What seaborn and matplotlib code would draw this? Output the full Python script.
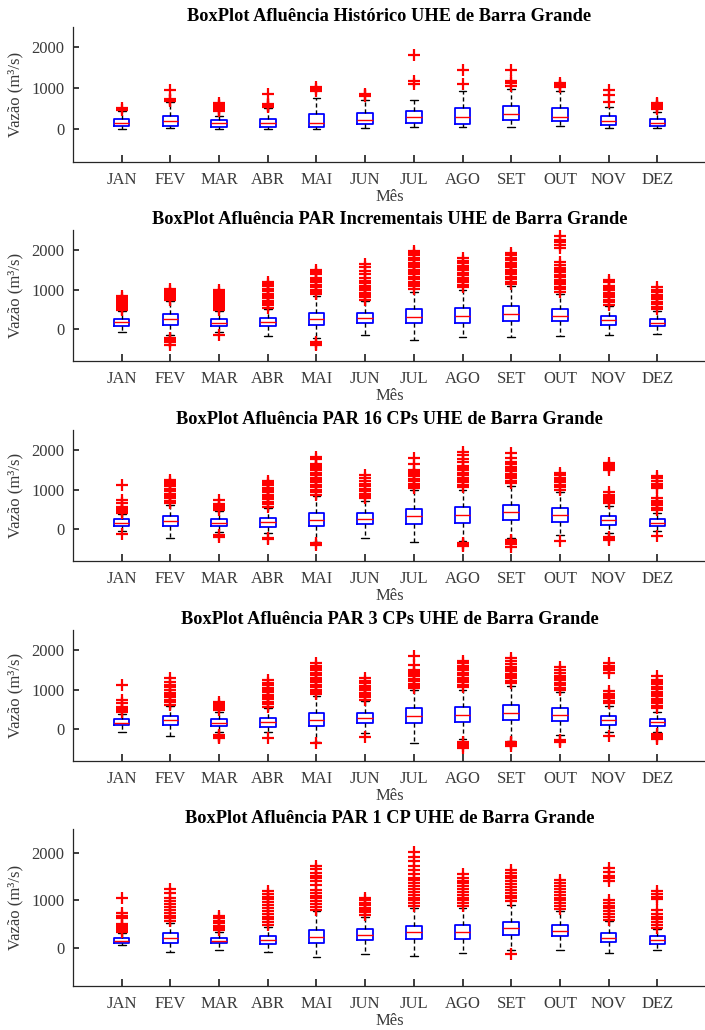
import numpy as np
import pandas as pd
import matplotlib
matplotlib.use('Agg')
import matplotlib.pyplot as plt
import seaborn as sns

MONTHS = ['JAN', 'FEV', 'MAR', 'ABR', 'MAI', 'JUN', 'JUL', 'AGO', 'SET', 'OUT', 'NOV', 'DEZ']
YTICKS = [0, 1000, 2000]

TITLES = [
    'BoxPlot Afluência Histórico UHE de Barra Grande',
    'BoxPlot Afluência PAR Incrementais UHE de Barra Grande',
    'BoxPlot Afluência PAR 16 CPs UHE de Barra Grande',
    'BoxPlot Afluência PAR 3 CPs UHE de Barra Grande',
    'BoxPlot Afluência PAR 1 CP UHE de Barra Grande',
]

# ---- Panel 1: Histórico ----
hist_q1 = [90, 90, 66, 66, 58, 123, 148, 140, 222, 190, 99, 74]
hist_med = [156, 190, 148, 156, 165, 238, 304, 288, 362, 304, 190, 148]
hist_q3 = [247, 313, 222, 247, 370, 410, 452, 510, 560, 510, 330, 240]
hist_lo = [16, 25, 16, 16, 16, 40, 58, 58, 58, 82, 40, 25]
hist_hi = [450, 660, 330, 520, 765, 724, 716, 946, 990, 930, 535, 430]
hist_out = [
    [480, 510],
    [690, 710, 730, 960],
    [450, 480, 500, 530, 560, 600, 640],
    [550, 570, 590, 610, 870],
    [930, 990, 1040],
    [820, 840, 860],
    [1100, 1170, 1810],
    [1100, 1440],
    [1050, 1120, 1190, 1440],
    [1030, 1060, 1090, 1120],
    [670, 830, 950],
    [490, 520, 550, 580, 610, 650],
]

# ---- Panel 2: PAR Incrementais ----
inc_q1 = [92, 100, 83, 83, 100, 150, 167, 167, 217, 217, 117, 75]
inc_med = [175, 250, 167, 183, 258, 275, 317, 333, 383, 342, 225, 167]
inc_q3 = [258, 375, 250, 283, 417, 400, 508, 542, 592, 517, 325, 258]
inc_lo = [-58, -150, -60, -167, -220, -142, -283, -208, -208, -167, -142, -125]
inc_hi = [460, 700, 460, 500, 840, 700, 950, 1000, 1100, 900, 580, 470]
inc_out = [
    [480, 520, 560, 600, 640, 690, 740, 790, 850],
    [740, 790, 840, 880, 920, 960, 1010, -230, -270, -300, -330, -390],
    [480, 530, 580, 630, 680, 730, 780, 830, 880, 930, 980, -140],
    [540, 600, 660, 720, 780, 840, 900, 960, 1020, 1080, 1140, 1200],
    [880, 940, 1000, 1060, 1120, 1180, 1240, 1300, 1380, 1440, 1500, -330, -360, -400],
    [740, 800, 860, 920, 980, 1040, 1100, 1160, 1220, 1300, 1380, 1460, 1560, 1650],
    [1020, 1080, 1140, 1200, 1260, 1320, 1380, 1440, 1500, 1560, 1620, 1680, 1740, 1800, 1860, 1920, 1980],
    [1060, 1120, 1180, 1240, 1300, 1360, 1420, 1480, 1540, 1600, 1660, 1720, 1800],
    [1140, 1200, 1260, 1320, 1380, 1440, 1500, 1560, 1620, 1680, 1740, 1800, 1860, 1930],
    [950, 1010, 1070, 1130, 1190, 1250, 1310, 1370, 1430, 1490, 1550, 1610, 1690, 2040, 2120, 2190, 2260, 2340],
    [620, 680, 740, 800, 860, 920, 980, 1040, 1100, 1180, 1250],
    [510, 570, 630, 690, 750, 810, 870, 930, 1000, 1060],
]

# ---- Panel 3: PAR 16 CPs ----
c16_q1 = [84, 84, 76, 59, 84, 143, 143, 169, 228, 194, 110, 84]
c16_med = [169, 219, 169, 194, 245, 270, 329, 371, 422, 371, 236, 169]
c16_q3 = [253, 338, 262, 295, 413, 413, 515, 548, 608, 540, 338, 262]
c16_lo = [-40, -211, -60, -100, -330, -211, -329, -300, -220, -150, -100, -50]
c16_hi = [380, 600, 450, 540, 840, 700, 1000, 1000, 1100, 950, 580, 420]
c16_out = [
    [410, 450, 490, 530, 560, 670, 730, 1110, -110],
    [660, 720, 780, 840, 900, 960, 1020, 1080, 1130, 1180, 1230],
    [480, 530, 580, 630, 730, -150, -190],
    [570, 630, 690, 750, 810, 870, 930, 980, 1050, 1110, 1170, 1220, -220, -250],
    [870, 940, 1000, 1060, 1120, 1180, 1240, 1300, 1360, 1420, 1480, 1540, 1600, 1650, 1760, 1830, -350, -400],
    [780, 840, 900, 960, 1020, 1080, 1150, 1220, 1290, 1360],
    [1030, 1090, 1150, 1210, 1270, 1330, 1390, 1450, 1500, 1650, 1790],
    [1060, 1120, 1180, 1240, 1300, 1360, 1420, 1480, 1540, 1600, 1700, 1780, 1860, 1940, -350, -390, -430],
    [1160, 1220, 1280, 1340, 1400, 1460, 1520, 1580, 1640, 1700, 1800, 1920, -280, -330, -380, -440],
    [1000, 1060, 1120, 1180, 1240, 1300, 1360, 1420, -300],
    [650, 700, 750, 800, 860, 930, 1500, 1540, 1580, 1620, 1680, -200, -240, -260],
    [480, 540, 600, 660, 720, 780, 1030, 1090, 1150, 1210, 1280, 1330, -170],
]

# ---- Panel 4: PAR 3 CPs ----
c3_q1 = [101, 101, 84, 59, 93, 160, 160, 186, 228, 211, 118, 84]
c3_med = [169, 228, 169, 177, 245, 287, 329, 371, 413, 371, 236, 177]
c3_q3 = [253, 338, 262, 295, 413, 413, 523, 548, 608, 540, 338, 262]
c3_lo = [-68, -177, -60, -80, -330, -100, -338, -250, -300, -150, -80, -60]
c3_hi = [380, 580, 430, 540, 840, 700, 1000, 1000, 1100, 950, 580, 430]
c3_out = [
    [440, 480, 520, 560, 670, 730, 1110],
    [620, 680, 740, 800, 860, 920, 980, 1060, 1120, 1200, 1280],
    [480, 530, 580, 630, 690, -140, -170, -200, -230],
    [570, 630, 690, 750, 810, 870, 930, 990, 1050, 1110, 1170, 1230, -230],
    [880, 940, 1000, 1060, 1120, 1180, 1240, 1300, 1360, 1420, 1480, 1540, 1600, 1680, -350],
    [740, 800, 860, 920, 980, 1040, 1100, 1160, 1220, 1300, -200],
    [1030, 1090, 1150, 1210, 1270, 1330, 1390, 1450, 1500, 1620, 1850],
    [1060, 1120, 1180, 1240, 1300, 1360, 1420, 1480, 1540, 1600, 1660, 1720, -330, -370, -410, -460],
    [1160, 1220, 1280, 1340, 1400, 1460, 1520, 1580, 1640, 1720, 1800, -320, -350, -380, -430],
    [990, 1050, 1110, 1170, 1230, 1290, 1350, 1420, 1500, 1580, -260, -290, -310],
    [660, 720, 780, 840, 900, 970, 1420, 1480, 1540, 1600, 1670, -180],
    [530, 590, 650, 710, 770, 830, 890, 950, 1010, 1070, 1130, 1190, 1250, 1330, -130, -170, -210, -240],
]

# ---- Panel 5: PAR 1 CP ----
c1_q1 = [106, 113, 106, 92, 106, 163, 184, 198, 269, 247, 127, 92]
c1_med = [148, 212, 148, 170, 226, 276, 325, 332, 410, 360, 219, 170]
c1_q3 = [219, 318, 219, 261, 375, 389, 466, 473, 551, 480, 318, 247]
c1_lo = [57, -85, -35, -85, -190, -120, -177, -106, -50, -50, -106, -50]
c1_hi = [320, 530, 330, 450, 780, 650, 830, 830, 900, 780, 560, 390]
c1_out = [
    [340, 380, 420, 460, 500, 620, 680, 730, 1050],
    [560, 620, 680, 740, 800, 860, 920, 980, 1060, 1150, 1240],
    [370, 420, 470, 520, 570, 620, 670],
    [480, 540, 600, 660, 720, 780, 840, 900, 960, 1020, 1080, 1140, 1200],
    [800, 860, 920, 980, 1040, 1100, 1160, 1220, 1320, 1400, 1460, 1520, 1580, 1650, 1720],
    [700, 750, 800, 850, 900, 950, 1000, 1060],
    [880, 940, 1000, 1060, 1120, 1180, 1240, 1300, 1360, 1420, 1480, 1560, 1640, 1720, 1820, 1920, 2020],
    [880, 940, 1000, 1060, 1120, 1180, 1240, 1300, 1360, 1400, 1480, 1560],
    [980, 1040, 1100, 1160, 1220, 1280, 1340, 1400, 1460, 1520, 1580, 1640, -130],
    [820, 880, 940, 1000, 1060, 1120, 1180, 1240, 1300, 1360, 1420],
    [590, 650, 710, 770, 830, 890, 950, 1010, 1410, 1460, 1520, 1600, 1680],
    [420, 480, 540, 600, 660, 720, 800, 1020, 1080, 1140, 1200],
]

PANELS = [
    (hist_q1, hist_med, hist_q3, hist_lo, hist_hi, hist_out),
    (inc_q1, inc_med, inc_q3, inc_lo, inc_hi, inc_out),
    (c16_q1, c16_med, c16_q3, c16_lo, c16_hi, c16_out),
    (c3_q1, c3_med, c3_q3, c3_lo, c3_hi, c3_out),
    (c1_q1, c1_med, c1_q3, c1_lo, c1_hi, c1_out),
]

sns.set_theme(style='ticks')
plt.rcParams['font.family'] = ['Liberation Serif', 'DejaVu Serif']
plt.rcParams['axes.edgecolor'] = '#262626'

W, H = 705, 1030
fig = plt.figure(figsize=(W / 100, H / 100), dpi=100)

# (top px, bottom px) of each axes
AX_PX = [(27, 162), (230, 361), (430, 561), (630, 761), (829, 986)]
LEFT_PX, RIGHT_PX = 73, 706
TEXT = '#3a3a3a'

for (top, bot), title, (q1, med, q3, lo, hi, out) in zip(AX_PX, TITLES, PANELS):
    ax = fig.add_axes([LEFT_PX / W, 1 - bot / H, (RIGHT_PX - LEFT_PX) / W, (bot - top) / H])
    pos = np.arange(1, len(MONTHS) + 1)
    stats = [dict(med=med[i], q1=q1[i], q3=q3[i], whislo=lo[i], whishi=hi[i], fliers=[])
             for i in range(len(MONTHS))]
    ax.bxp(stats, positions=pos, widths=0.32, capwidths=0.16, showfliers=False,
           boxprops=dict(color='blue', lw=1.3),
           medianprops=dict(color='red', lw=1.0),
           whiskerprops=dict(color='black', lw=1.0, ls=(0, (3, 2))),
           capprops=dict(color='black', lw=1.0))
    fl_x, fl_y = [], []
    for i, vals in enumerate(out):
        fl_x += [pos[i]] * len(vals)
        fl_y += vals
    df = pd.DataFrame({'pos': fl_x, 'val': fl_y})
    sns.scatterplot(data=df, x='pos', y='val', marker='+', color='red', s=80,
                    linewidth=1.6, ax=ax, zorder=3, legend=False)
    ax.set_xlim(0, 13)
    ax.set_ylim(-800, 2500)
    ax.set_xticks(pos)
    ax.set_xticklabels(MONTHS)
    ax.set_yticks(YTICKS)
    ax.tick_params(axis='x', direction='in', length=5, pad=7, labelsize=12,
                   colors='#262626', labelcolor=TEXT)
    ax.tick_params(axis='y', direction='in', length=4, pad=6, labelsize=12,
                   colors='#262626', labelcolor=TEXT)
    for s in ['top', 'right']:
        ax.spines[s].set_visible(False)
    for s in ['left', 'bottom']:
        ax.spines[s].set_linewidth(0.9)
    ax.set_xlabel('Mês', fontsize=12, color=TEXT, labelpad=1)
    ax.set_ylabel('Vazão (m³/s)', fontsize=12, color=TEXT, labelpad=6)
    ax.set_title(title, fontsize=13.2, fontweight='bold', color='black', pad=4)

fig.savefig('out.png', dpi=100)
